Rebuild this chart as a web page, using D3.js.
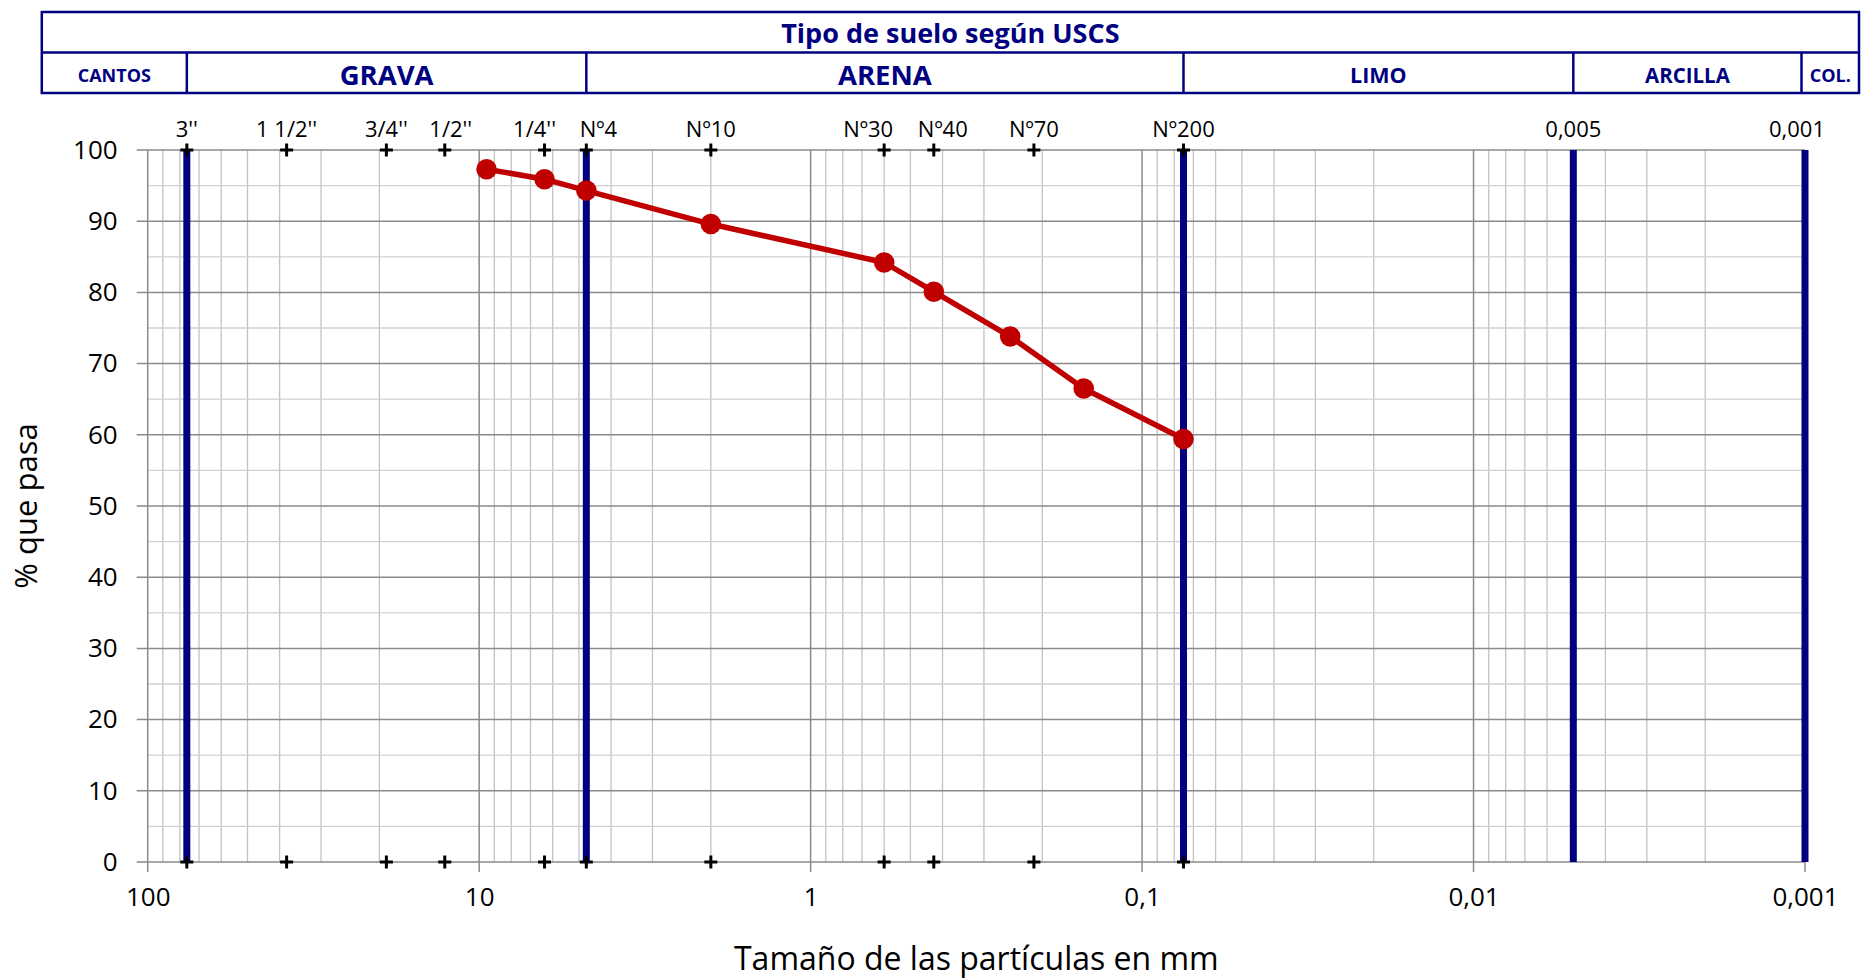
<!DOCTYPE html>
<html>
<head>
<meta charset="utf-8">
<script src="https://cdn.jsdelivr.net/npm/d3@7"></script>
<style>
  html, body { margin: 0; padding: 0; background: #fff; }
  svg { display: block; }
  text { font-family: "Open Sans", "DejaVu Sans", sans-serif; }
</style>
</head>
<body>
<svg id="chart" width="1871" height="979"></svg>
<script>
// ---------------- DATA ----------------
const headerTitle = "Tipo de suelo según USCS";
const soilClasses = ["CANTOS", "GRAVA", "ARENA", "LIMO", "ARCILLA", "COL."];
// boundaries between the soil classes (mm) — drawn as thick blue lines
const boundarySizes = [76.2, 4.75, 0.075, 0.005, 0.001];

const sieveLabels = ["3''", "1 1/2''", "3/4''", "1/2''", "1/4''", "Nº4", "Nº10", "Nº30", "Nº40", "Nº70", "Nº200"];
const sieveSizes  = [76.2, 38.1, 19.05, 12.7, 6.35, 4.75, 2.0, 0.6, 0.425, 0.212, 0.075];
const limitLabels = ["0,005", "0,001"];
const limitSizes  = [0.005, 0.001];

const sampleSizes   = [9.5, 6.35, 4.75, 2.0, 0.6, 0.425, 0.25, 0.15, 0.075];
const samplePassing = [97.3, 95.9, 94.3, 89.6, 84.2, 80.1, 73.8, 66.5, 59.4];

const xTickValues = [100, 10, 1, 0.1, 0.01, 0.001];
const xTickLabels = ["100", "10", "1", "0,1", "0,01", "0,001"];
const yTickValues = [0, 10, 20, 30, 40, 50, 60, 70, 80, 90, 100];

const xTitle = "Tamaño de las partículas en mm";
const yTitle = "% que pasa";

// ---------------- LAYOUT / STYLE ----------------
const plot = { left: 147.7, right: 1805, top: 150, bottom: 862 };
const header = { left: 41.8, right: 1859, top: 12, mid: 52.5, bottom: 93 };
const navy = "#000080";
const red = "#C00000";
const gridMajor = "#8a8a8a";
const gridMinor = "#c2c2c2";
const gridMinorH = "#cfcfcf";
// small horizontal nudges of the sieve labels (as in the original layout)
const labelNudge = { "1/2''": 6, "1/4''": -10, "Nº4": 12, "Nº30": -16, "Nº40": 9, "0,001": -8 };
const clsFont = { "CANTOS": 18, "GRAVA": 27.5, "ARENA": 27.5, "LIMO": 21.5, "ARCILLA": 20.5, "COL.": 18 };

const svg = d3.select("#chart");
const x = d3.scaleLog().domain([100, 0.001]).range([plot.left, plot.right]);
const y = d3.scaleLinear().domain([0, 100]).range([plot.bottom, plot.top]);

// ---------- grid ----------
const grid = svg.append("g");
const minorX = [];
for (let e = -3; e < 2; e++) for (let k = 2; k <= 9; k++) minorX.push(k * Math.pow(10, e));
grid.selectAll("line.vminor").data(minorX).join("line")
  .attr("x1", d => x(d)).attr("x2", d => x(d))
  .attr("y1", y(0)).attr("y2", y(100))
  .attr("stroke", gridMinor).attr("stroke-width", 1.3);
const minorY = d3.range(5, 100, 10);
grid.selectAll("line.hminor").data(minorY).join("line")
  .attr("x1", plot.left).attr("x2", plot.right)
  .attr("y1", d => y(d)).attr("y2", d => y(d))
  .attr("stroke", gridMinorH).attr("stroke-width", 1.3);
grid.selectAll("line.hmajor").data(yTickValues).join("line")
  .attr("x1", plot.left - 11).attr("x2", plot.right)
  .attr("y1", d => y(d)).attr("y2", d => y(d))
  .attr("stroke", gridMajor).attr("stroke-width", 1.5);
grid.selectAll("line.vmajor").data(xTickValues).join("line")
  .attr("x1", d => x(d)).attr("x2", d => x(d))
  .attr("y1", y(0) + 10).attr("y2", y(100))
  .attr("stroke", gridMajor).attr("stroke-width", 1.5);

// ---------- axes labels via d3 axes ----------
const yAxis = d3.axisLeft(y).tickValues(yTickValues).tickSize(0).tickPadding(30);
const gy = svg.append("g").attr("transform", `translate(${plot.left},0)`).call(yAxis);
gy.select(".domain").remove();
gy.selectAll("text").attr("font-size", 26).attr("fill", "#000")
  .style("font-family", "'Open Sans', sans-serif");

const xAxis = d3.axisBottom(x).tickValues(xTickValues)
  .tickFormat((d, i) => xTickLabels[i]).tickSize(0).tickPadding(26);
const gx = svg.append("g").attr("transform", `translate(0,${plot.bottom})`).call(xAxis);
gx.select(".domain").remove();
gx.selectAll("text").attr("font-size", 26).attr("fill", "#000")
  .style("font-family", "'Open Sans', sans-serif");

// ---------- boundary blue lines ----------
svg.append("g").selectAll("line").data(boundarySizes).join("line")
  .attr("x1", d => x(d)).attr("x2", d => x(d))
  .attr("y1", y(0)).attr("y2", y(100))
  .attr("stroke", navy).attr("stroke-width", 7);

// ---------- sieve plus markers ----------
function plus(g, cx, cy) {
  g.append("line").attr("x1", cx - 6.5).attr("x2", cx + 6.5).attr("y1", cy).attr("y2", cy)
    .attr("stroke", "#000").attr("stroke-width", 3);
  g.append("line").attr("x1", cx).attr("x2", cx).attr("y1", cy - 6.5).attr("y2", cy + 6.5)
    .attr("stroke", "#000").attr("stroke-width", 3);
}
const pg = svg.append("g");
sieveSizes.forEach(s => { plus(pg, x(s), y(100)); plus(pg, x(s), y(0)); });

const topLabels = sieveLabels.map((l, i) => ({ label: l, size: sieveSizes[i] }))
  .concat(limitLabels.map((l, i) => ({ label: l, size: limitSizes[i] })));
svg.append("g").selectAll("text").data(topLabels).join("text")
  .attr("x", d => x(d.size) + (labelNudge[d.label] || 0))
  .attr("y", plot.top - 13)
  .attr("text-anchor", "middle")
  .attr("font-size", 22).attr("fill", "#000")
  .text(d => d.label);

// ---------- data series ----------
const pts = sampleSizes.map((s, i) => ({ s, p: samplePassing[i] }));
svg.append("path").datum(pts)
  .attr("d", d3.line().x(d => x(d.s)).y(d => y(d.p)))
  .attr("fill", "none").attr("stroke", red).attr("stroke-width", 5.5)
  .attr("stroke-linejoin", "round");
svg.append("g").selectAll("circle").data(pts).join("circle")
  .attr("cx", d => x(d.s)).attr("cy", d => y(d.p)).attr("r", 10.3)
  .attr("fill", red);

// ---------- header table ----------
const hg = svg.append("g");
const edges = [header.left]
  .concat(boundarySizes.map((b, i) => i === boundarySizes.length - 1 ? x(b) - 3.5 : x(b)))
  .concat([header.right]);
hg.append("rect")
  .attr("x", header.left).attr("y", header.top)
  .attr("width", header.right - header.left).attr("height", header.bottom - header.top)
  .attr("fill", "none").attr("stroke", navy).attr("stroke-width", 2.5);
hg.append("line").attr("x1", header.left).attr("x2", header.right)
  .attr("y1", header.mid).attr("y2", header.mid)
  .attr("stroke", navy).attr("stroke-width", 2.5);
hg.selectAll("line.div").data(edges.slice(1, -1)).join("line")
  .attr("x1", d => d).attr("x2", d => d)
  .attr("y1", header.mid).attr("y2", header.bottom)
  .attr("stroke", navy).attr("stroke-width", 2.5);
hg.append("text")
  .attr("x", (header.left + header.right) / 2).attr("y", (header.top + header.mid) / 2 + 10.5)
  .attr("text-anchor", "middle").attr("font-weight", "bold").attr("font-size", 27)
  .attr("fill", navy).text(headerTitle);
hg.selectAll("text.cls").data(soilClasses).join("text")
  .attr("x", (d, i) => (edges[i] + edges[i + 1]) / 2)
  .attr("y", d => (header.mid + header.bottom) / 2 + clsFont[d] * 0.36 + 2.5)
  .attr("text-anchor", "middle").attr("font-weight", "bold")
  .attr("font-size", d => clsFont[d])
  .attr("fill", navy).text(d => d);

// ---------- axis titles ----------
svg.append("text")
  .attr("x", (plot.left + plot.right) / 2).attr("y", 970)
  .attr("text-anchor", "middle").attr("font-size", 32).attr("fill", "#000")
  .text(xTitle);
svg.append("text")
  .attr("transform", `translate(37,${(plot.top + plot.bottom) / 2}) rotate(-90)`)
  .attr("text-anchor", "middle").attr("font-size", 31).attr("fill", "#000")
  .text(yTitle);
</script>
</body>
</html>
